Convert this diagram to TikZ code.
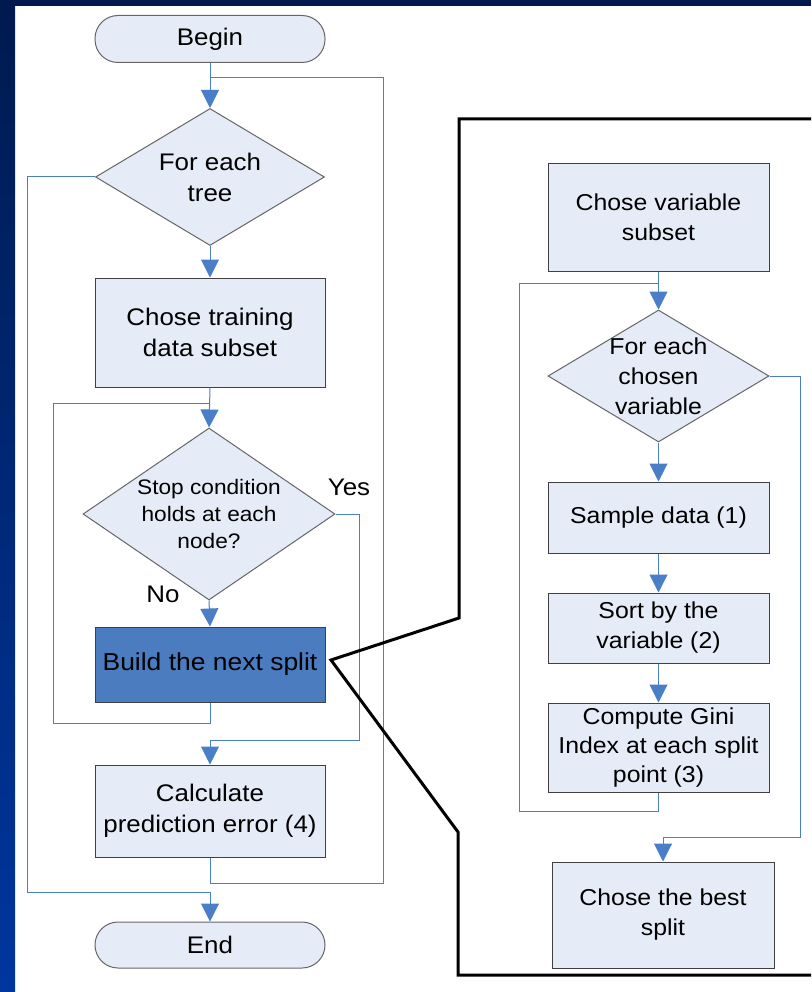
\documentclass[tikz,border=0pt]{standalone}
\usepackage{fontspec}
\setmainfont{Liberation Sans}[FakeStretch=1.08]
\usetikzlibrary{shapes.geometric,arrows.meta}
\definecolor{boxfill}{HTML}{E6ECF7}
\definecolor{boxdraw}{HTML}{404040}
\definecolor{conn}{HTML}{4A7EC6}
\definecolor{buildfill}{HTML}{4A7CBF}
\definecolor{navytop}{HTML}{001A4F}
\definecolor{navybot}{HTML}{00369F}
\tikzset{
  proc/.style={rectangle, draw=boxdraw, fill=boxfill, line width=1pt, align=center, inner sep=2pt},
  term/.style={rectangle, rounded corners=23pt, draw=boxdraw!80, fill=boxfill, line width=1pt, align=center},
  decide/.style={diamond, draw=boxdraw!80, fill=boxfill, line width=1pt, inner sep=0pt, aspect=1.6},
  link/.style={draw=conn, line width=1pt},
  arr/.style={link, -{Triangle[width=18pt,length=18pt]}},
  outline/.style={draw=black, line width=3pt, line join=miter},
  leftfont/.style={font=\fontsize{24}{31}\selectfont},
  rightfont/.style={font=\fontsize{23}{30}\selectfont},
}
\begin{document}
\begin{tikzpicture}[x=1pt,y=-1pt, font=\fontsize{24}{31}\selectfont]
\useasboundingbox (0,0) rectangle (811,992);
\fill[white] (0,0) rectangle (811,992);
\shade[top color=navytop, bottom color=navybot] (0,0) rectangle (15,992);
\fill[navytop] (0,0) rectangle (811,6);

% left column nodes
\node[term, leftfont, minimum width=230pt, minimum height=47pt] (begin) at (210,39) {Begin};
\node[decide, minimum width=229pt, minimum height=137pt,
      label={[align=center, leftfont]center:For each\\tree}] (d1) at (210,177) {};
\node[proc, leftfont, minimum width=230pt, minimum height=109pt] (train) at (210,332.5) {Chose training\\data subset};
\node[decide, minimum width=252pt, minimum height=172pt,
      label={[align=center, font=\fontsize{21}{27}\selectfont]center:Stop condition\\holds at each\\node?}] (d2) at (209,514) {};
\node[proc, fill=buildfill, minimum width=230pt, minimum height=75pt, font=\fontsize{24.5}{30}\selectfont] (build) at (210,664.5) {Build the next split};
\node[proc, leftfont, minimum width=230pt, minimum height=92pt] (calc) at (210,811) {Calculate\\prediction error (4)};
\node[term, leftfont, minimum width=230pt, minimum height=46pt] (end) at (210,945) {End};
\node[leftfont] (yes) at (349,487) {Yes};
\node[leftfont] (no) at (163,594) {No};

% right column nodes
\node[proc, rightfont, minimum width=221pt, minimum height=107pt] (cvs) at (658.5,217.5) {Chose variable\\subset};
\node[decide, minimum width=221pt, minimum height=132pt,
      label={[align=center, rightfont]center:For each\\chosen\\variable}] (d3) at (658.5,376) {};
\node[proc, rightfont, minimum width=221pt, minimum height=71pt] (samp) at (658.5,517.5) {Sample data (1)};
\node[proc, rightfont, minimum width=221pt, minimum height=70pt] (sort) at (658.5,628) {Sort by the\\variable (2)};
\node[proc, minimum width=221pt, minimum height=89pt, font=\fontsize{23}{29}\selectfont] (comp) at (658.5,747.5) {Compute Gini\\Index at each split\\point (3)};
\node[proc, rightfont, minimum width=222pt, minimum height=106pt] (best) at (663,915) {Chose the best\\split};

% coordinates
\coordinate (jtop) at (210,78);
\coordinate (jmid) at (210,403);
\coordinate (jcalc) at (210,740);
\coordinate (jend) at (210,892);
\coordinate (rjtop) at (658.5,283);
\coordinate (rjbest) at (663,837);

% left connectors
\draw[arr] (begin.south) -- (d1.north);
\draw[arr] (d1.south) -- (train.north);
\draw[arr] (train.south) -- (d2.north);
\draw[arr] (d2.south) -- (build.north);
\draw[link] (d2.east) -- (359,514) -- (359,740) -- (jcalc);
\draw[arr] (jcalc) -- (calc.north);
\draw[link] (build.south) -- (210,723) -- (53,723) -- (53,403) -- (jmid);
\draw[link] (calc.south) -- (210,883) -- (383,883) -- (383,78) -- (jtop);
\draw[link] (d1.west) -- (27,177) -- (27,892) -- (jend);
\draw[arr] (jend) -- (end.north);

% right connectors
\draw[arr] (cvs.south) -- (d3.north);
\draw[arr] (d3.south) -- (samp.north);
\draw[arr] (samp.south) -- (sort.north);
\draw[arr] (sort.south) -- (comp.north);
\draw[link] (comp.south) -- (658.5,811) -- (519,811) -- (519,283) -- (rjtop);
\draw[link] (d3.east) -- (800,376) -- (800,837) -- (rjbest);
\draw[arr] (rjbest) -- (best.north);

% zoom outline
\coordinate (zoomtip) at (331,660);
\begin{scope}
\clip (0,0) rectangle (811,992);
\draw[outline] (820,119) -- (459,119) -- (459,618) -- (zoomtip) -- (458,832) -- (458,975) -- (820,975);
\end{scope}
\end{tikzpicture}
\end{document}
